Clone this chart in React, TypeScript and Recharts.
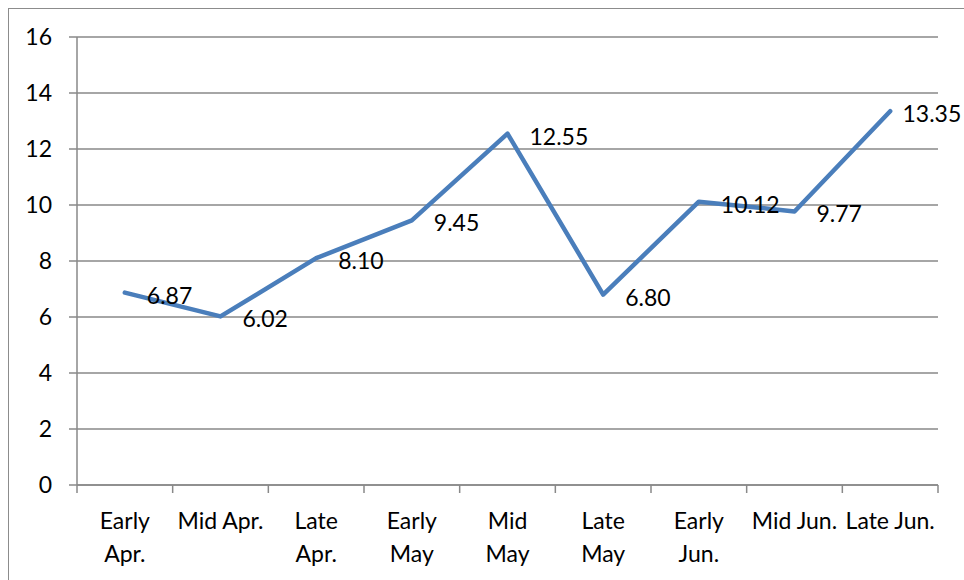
import { LineChart, Line, XAxis, YAxis, CartesianGrid, LabelList } from "recharts";

const categories = [
  "Early Apr.",
  "Mid Apr.",
  "Late Apr.",
  "Early May",
  "Mid May",
  "Late May",
  "Early Jun.",
  "Mid Jun.",
  "Late Jun.",
];
const tickLabelLines = [
  ["Early", "Apr."],
  ["Mid Apr."],
  ["Late", "Apr."],
  ["Early", "May"],
  ["Mid", "May"],
  ["Late", "May"],
  ["Early", "Jun."],
  ["Mid Jun."],
  ["Late Jun."],
];
const values = [6.87, 6.02, 8.1, 9.45, 12.55, 6.8, 10.12, 9.77, 13.35];
const yTicks = [0, 2, 4, 6, 8, 10, 12, 14, 16];

const W = 964;
const H = 580;
const FONT = "Lato, 'Open Sans', sans-serif";
const GRID = "#898989";

const data = categories.map((c, i) => ({ name: c, value: values[i] }));

function CategoryTick(props: any) {
  const { x, y, payload, index, width } = props;
  const half = payload?.offset ? payload.offset : width / categories.length / 2;
  const lines = tickLabelLines[index] || [payload.value];
  const last = index === categories.length - 1;
  return (
    <g>
      <line x1={x - half} y1={y} x2={x - half} y2={y + 8} stroke={GRID} strokeWidth={1.5} />
      {last && <line x1={x + half} y1={y} x2={x + half} y2={y + 8} stroke={GRID} strokeWidth={1.5} />}
      {lines.map((t: string, k: number) => (
        <text
          key={k}
          x={x}
          y={y + 35 + k * 33}
          textAnchor="middle"
          dominantBaseline="central"
          fill="#000"
          fontSize={23}
          fontFamily={FONT}
        >
          {t}
        </text>
      ))}
    </g>
  );
}

function PointLabel(props: any) {
  const { x, y, value } = props;
  const text = Number(value).toFixed(2);
  const est = text.length * 11.5;
  let tx = x + 22;
  if (tx + est > W - 4) tx = W - 4 - est;
  return (
    <text x={tx} y={y + 2} dominantBaseline="central" fill="#000" fontSize={23} fontFamily={FONT}>
      {text}
    </text>
  );
}

export default function App() {
  return (
    <div style={{ position: "absolute", left: 0, top: 0, width: W, height: H, background: "#fff", overflow: "hidden" }}>
      <div
        style={{
          position: "absolute",
          left: 8,
          top: 8,
          width: W,
          height: H,
          borderLeft: "1.5px solid #8c8c8c",
          borderTop: "1.5px solid #8c8c8c",
        }}
      />
      <div style={{ position: "absolute", left: 0, top: 0 }}>
        <LineChart width={W} height={H} data={data} margin={{ top: 37, right: 26, left: 0, bottom: 0 }}>
          <CartesianGrid vertical={false} stroke={GRID} strokeWidth={1.5} />
          <XAxis
            dataKey="name"
            scale="band"
            height={95}
            interval={0}
            tickSize={0}
            tickMargin={0}
            tickLine={false}
            axisLine={{ stroke: GRID, strokeWidth: 1.5 }}
            tick={<CategoryTick />}
          />
          <YAxis
            width={77}
            domain={[0, 16]}
            ticks={yTicks}
            interval={0}
            tickSize={8}
            tickMargin={17}
            axisLine={{ stroke: GRID, strokeWidth: 1.5 }}
            tickLine={{ stroke: GRID, strokeWidth: 1.5 }}
            tick={{ fill: "#000", fontSize: 23, fontFamily: FONT }}
          />
          <Line
            dataKey="value"
            stroke="#4A7EBB"
            strokeWidth={4.5}
            strokeLinejoin="round"
            strokeLinecap="round"
            dot={false}
            activeDot={false}
            isAnimationActive={false}
          >
            <LabelList dataKey="value" content={<PointLabel />} />
          </Line>
        </LineChart>
      </div>
    </div>
  );
}
